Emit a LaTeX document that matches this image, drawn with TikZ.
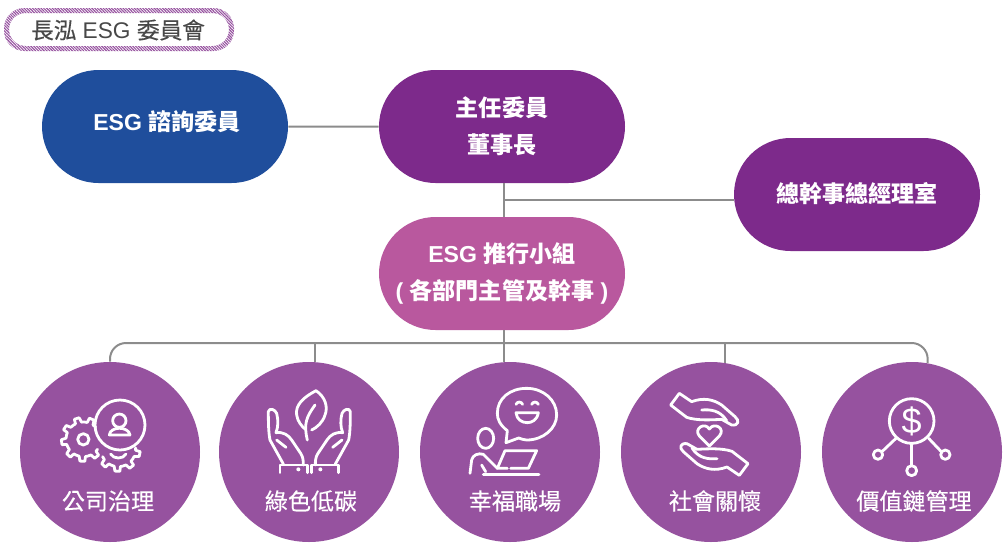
\documentclass[tikz,border=0pt]{standalone}
\usepackage{fontspec}
\setmainfont{Liberation Sans}
\newfontfamily\cjk{Noto Sans CJK TC}
\newfontfamily\cjkmid[FakeBold=0.35]{Noto Sans CJK TC}
\usetikzlibrary{shapes.misc,patterns.meta}

\definecolor{advisorblue}{HTML}{1F4E9C}
\definecolor{chiefpurple}{HTML}{7D2A8B}
\definecolor{grouppink}{HTML}{B9589E}
\definecolor{topicpurple}{HTML}{96529F}
\definecolor{linegray}{HTML}{8C8C8C}
\definecolor{titlegray}{HTML}{484848}

\tikzset{
    pilltext/.style={text=white, align=center, font=\fontsize{17.3}{27.75}\selectfont\bfseries},
    pill/.style={rounded rectangle, fill=#1, minimum width=184.5pt, minimum height=84.75pt,
        inner sep=0pt, pilltext},
    topic/.style={circle, fill=topicpurple, minimum size=135pt, inner sep=0pt},
    topiclabel/.style={text=white, font=\fontsize{17.3}{20}\selectfont\cjkmid},
    link/.style={draw=linegray, line width=1.5pt},
    iconline/.style={draw=white, line width=2.1pt, line cap=round, line join=round},
    iconzoom/.style={shift={#1}, x=0.25pt, y=-0.25pt}
}

\begin{document}
\begin{tikzpicture}[x=0.75pt,y=-0.75pt]
    \useasboundingbox (0,0) rectangle (1006,547);

    % Draw the title frame
    \fill[even odd rule, pattern={Lines[angle=-45,distance=1.5pt,line width=0.85pt]}, pattern color=topicpurple]
        [rounded corners=15.3pt] (4,8) rectangle (234,51)
        [rounded corners=12.4pt] (9,13) rectangle (229,46);
    \node[text=titlegray, font=\fontsize{17}{20}\selectfont] (title) at (118,30) {{\cjkmid 長泓} ESG {\cjkmid 委員會}};

    % Draw the pills
    \node[pill=advisorblue] (advisor) at (165,126.5) {};
    \node[pilltext] (advisortext) at (167,122) {ESG {\cjk 諮詢委員}};
    \node[pill=chiefpurple] (chief) at (502,126.5) {\cjk 主任委員\\\cjk 董事長};
    \node[pill=chiefpurple] (office) at (857,194.5) {\raisebox{3pt}{\cjk 總幹事總經理室}};
    \node[pill=grouppink] (group) at (502,273.5) {ESG {\cjk 推行小組}\\( {\cjk 各部門主管及幹事} )};

    % Draw the topic circles
    \node[topic] (governance) at (110,452) {};
    \node[topic] (green) at (309,452) {};
    \node[topic] (workplace) at (510,452) {};
    \node[topic] (care) at (711,452) {};
    \node[topic] (value) at (912,452) {};

    \node[topiclabel] (governancetext) at (108,501) {公司治理};
    \node[topiclabel] (greentext) at (311,501) {綠色低碳};
    \node[topiclabel] (workplacetext) at (515,501) {幸福職場};
    \node[topiclabel] (caretext) at (715,501) {社會關懷};
    \node[topiclabel] (valuetext) at (914,501) {價值鏈管理};

    % Draw the connectors
    \coordinate (trunk) at (504,200);
    \coordinate (bus) at (504,343);
    \draw[link] (advisor) -- (chief);
    \draw[link] (chief.south -| trunk) -- (group.north -| trunk);
    \draw[link] (trunk) -- (office.west |- trunk);
    \draw[link] (group.south -| bus) -- (workplace.north -| bus);
    \draw[link, rounded corners=12pt] (governance.north) |- (bus) -| (value.80);
    \draw[link] (bus -| green.86) -- (green.86);
    \draw[link] (bus -| care.81) -- (care.81);

    % Draw the gears and the person
    \begin{scope}[iconzoom={(20,360)}]
        \draw[iconline] (300,195) circle (75);
        \draw[iconline] (298,182) circle (20);
        \draw[iconline] (268,225) .. controls (270,198) and (326,198) .. (330,225) -- cycle;
        \draw[iconline] (190,238) circle (17);
        \begin{scope}[shift={(190,238)}]
            \draw[iconline] (35:52) \foreach \a in {35,75,...,275} { -- (\a+8:52) -- (\a+11:66) -- (\a+24:66) -- (\a+29:52) -- (\a+40:52)};
        \end{scope}
        \begin{scope}[shift={(295,268)}]
            \draw[iconline] (-5:52) \foreach \a in {-5,35,75,115} { -- (\a+8:52) -- (\a+11:66) -- (\a+24:66) -- (\a+29:52) -- (\a+40:52)};
        \end{scope}
        \draw[iconline] (272,282) .. controls (280,298) and (310,298) .. (318,282);
    \end{scope}

    % Draw the leaf and the hands
    \begin{scope}[iconzoom={(20,360)}]
        \draw[iconline] (888,92) .. controls (850,112) and (825,135) .. (830,165) .. controls (833,185) and (845,198) .. (855,207);
        \draw[iconline] (888,92) .. controls (915,110) and (925,140) .. (915,165) .. controls (908,188) and (890,203) .. (875,210);
        \draw[iconline] (885,135) .. controls (860,170) and (850,190) .. (862,240);
        \foreach \side in {0,1} {
            \begin{scope}[shift={(\side*1736,0)}, xscale=1-2*\side]
                \draw[iconline] (790,312) -- (750,240) .. controls (745,215) and (745,180) .. (745,155) .. controls (748,142) and (765,148) .. (770,160) .. controls (775,180) and (775,200) .. (768,218) .. controls (790,215) and (805,225) .. (815,240) -- (842,280) .. controls (850,292) and (850,305) .. (850,315);
                \draw[iconline] (770,240) -- (798,262);
                \draw[iconline] (780,338) -- (780,315) -- (862,315) -- (862,338);
                \fill[white] (835,328) circle (6);
            \end{scope}
        }
    \end{scope}

    % Draw the speech bubble and the desk
    \begin{scope}[iconzoom={(420,360)}]
        \draw[iconline] (262,212) .. controls (240,195) and (232,178) .. (232,160) .. controls (232,115) and (270,85) .. (320,85) .. controls (370,85) and (410,120) .. (410,165) .. controls (410,205) and (370,240) .. (320,240) .. controls (312,240) and (305,237) .. (296,234) -- (258,248) -- cycle;
        \draw[iconline] (288,133) .. controls (292,124) and (304,124) .. (308,133);
        \draw[iconline] (335,133) .. controls (339,124) and (351,124) .. (355,133);
        \draw[iconline] (288,158) -- (355,158) .. controls (352,180) and (335,188) .. (322,188) .. controls (305,188) and (290,178) .. (288,158) -- cycle;
        \draw[iconline] (197,235) ellipse (24 and 30);
        \draw[iconline] (150,340) -- (155,300) .. controls (158,285) and (175,278) .. (190,283) -- (232,325) -- (262,325);
        \draw[iconline] (185,315) -- (197,335);
        \draw[iconline] (190,343) -- (357,343);
        \draw[iconline] (232,325) -- (255,272) -- (350,272) -- (325,325) -- (272,325);
    \end{scope}

    % Draw the two hands and the heart
    \begin{scope}[iconzoom={(420,360)}]
        \foreach \turn in {0,180} {
            \begin{scope}[rotate around={\turn:(868,223)}]
                \draw[iconline] (752,135) -- (778,100) -- (815,125) .. controls (850,112) and (880,118) .. (905,135) -- (945,170) .. controls (960,182) and (955,198) .. (935,195) -- (905,178) .. controls (870,180) and (830,182) .. (800,172) -- cycle;
                \draw[iconline] (845,150) .. controls (870,148) and (900,150) .. (920,182);
            \end{scope}
        }
        \draw[iconline] (868,258) -- (838,228) .. controls (820,205) and (855,185) .. (868,207) .. controls (882,185) and (918,205) .. (898,228) -- cycle;
    \end{scope}

    % Draw the coin and its branches
    \begin{scope}[iconzoom={(820,340)}]
        \draw[iconline] (275,243) circle (67);
        \node[text=white, font=\fontsize{27}{30}\selectfont] (dollar) at (275,243) {\$};
        \draw[iconline] (228,295) -- (188,333);
        \draw[iconline] (326,295) -- (362,333);
        \draw[iconline] (275,312) -- (275,375);
        \draw[iconline] (174,344) circle (14);
        \draw[iconline] (376,344) circle (14);
        \draw[iconline] (275,392) circle (15);
    \end{scope}
\end{tikzpicture}
\end{document}
